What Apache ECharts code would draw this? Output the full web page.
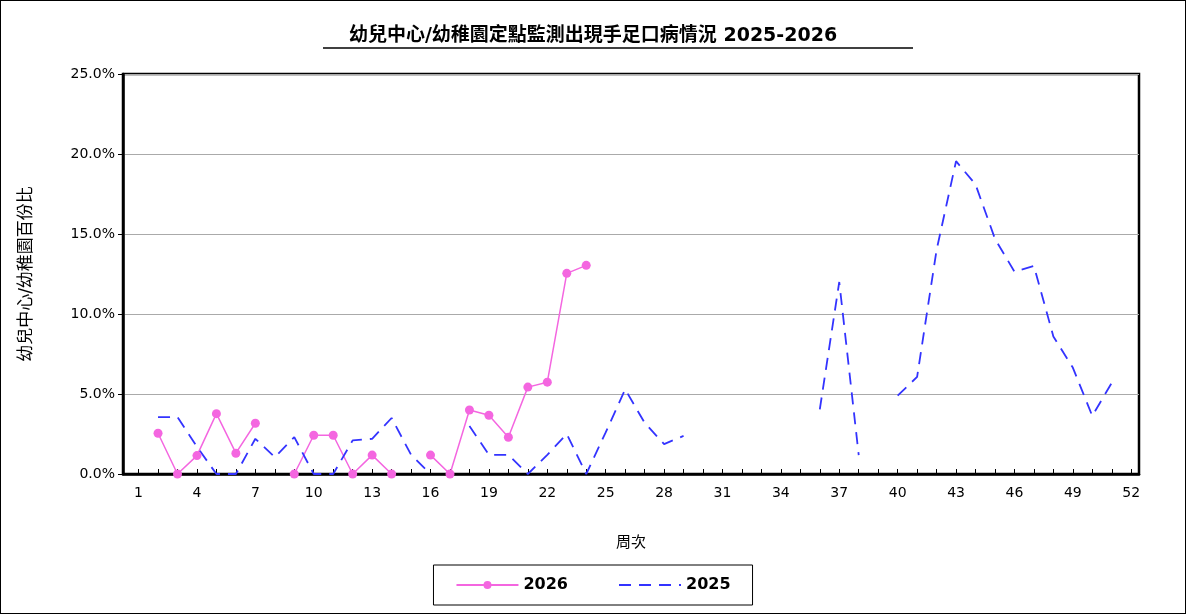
<!DOCTYPE html>
<html><head><meta charset="utf-8">
<script src="https://cdn.jsdelivr.net/npm/echarts@6/dist/echarts.min.js"></script>
<style>html,body{margin:0;padding:0;background:#fff}#c{width:1186px;height:614px;box-sizing:border-box;border:1px solid #000}</style>
</head><body><div id="c"></div>
<script>
const weeks = Array.from({length:52},(_,i)=>i+1);
const xTickLabels = [1,4,7,10,13,16,19,22,25,28,31,34,37,40,43,46,49,52];
const yTickLabels = ['0.0%','5.0%','10.0%','15.0%','20.0%','25.0%'];
const v2026 = [null,2.55,0,1.15,3.77,1.3,3.17,null,0,2.42,2.42,0,1.18,0,null,1.18,0,4.0,3.67,2.3,5.43,5.74,12.54,13.04];
const v2025 = [null,3.56,3.56,1.7,0,0,2.2,1.05,2.3,0,0,2.1,2.2,3.5,1.2,0,null,3.0,1.2,1.2,0,1.2,2.5,0,2.6,5.29,3.2,1.87,2.38,
  null,null,null,null,null,null,4.04,12.0,1.18,null,4.9,6.07,14.0,19.55,18.1,14.7,12.65,13.0,8.6,6.65,3.63,5.7,null];
const pairs = a => a.map((v,i)=>[weeks[i], v]);
const font = '"DejaVu Sans","Noto Sans CJK TC",sans-serif';
const chart = echarts.init(document.getElementById('c'));
chart.setOption({
  animation:false,
  title:{text:'幼兒中心/幼稚園定點監測出現手足口病情況 2025-2026',left:'center',top:21,
    textStyle:{fontFamily:font,fontSize:19,fontWeight:'bold',color:'#000'}},
  graphic:[{type:'line',shape:{x1:322,y1:47,x2:912,y2:47},style:{stroke:'#000',lineWidth:1.5}}],
  grid:{left:122,right:46,top:73,bottom:139,show:true,borderColor:'#000',borderWidth:2.5},
  legend:{bottom:8,left:'center',itemWidth:62,itemHeight:10,itemGap:50,padding:[12,22],borderColor:'#000',borderWidth:1,
    textStyle:{fontFamily:font,fontSize:16,fontWeight:'bold',color:'#000'},
    data:['2026','2025']},
  xAxis:{type:'value',min:0.2,max:52.4,name:'周次',nameLocation:'middle',nameGap:62,
    nameTextStyle:{fontFamily:font,fontSize:15,color:'#000'},
    axisLine:{lineStyle:{color:'#000',width:2.5}},
    axisTick:{show:true,inside:true,length:5,customValues:weeks,lineStyle:{color:'#000'}},
    axisLabel:{customValues:xTickLabels,fontFamily:font,fontSize:14,color:'#000',margin:12},
    splitLine:{show:false}},
  yAxis:{type:'value',min:0,max:25,interval:5,name:'幼兒中心/幼稚園百份比',nameLocation:'middle',nameGap:88,
    nameTextStyle:{fontFamily:font,fontSize:17,color:'#000'},
    axisLine:{show:true,lineStyle:{color:'#000',width:2.5}},
    axisLabel:{fontFamily:font,fontSize:14,color:'#000',formatter:v=>yTickLabels[v/5]},
    splitLine:{lineStyle:{color:'#aaa',width:1}}},
  series:[
    {name:'2026',type:'line',data:pairs(v2026),symbol:'circle',symbolSize:9,
      itemStyle:{color:'#f466e0'},lineStyle:{color:'#f466e0',width:1.5}},
    {name:'2025',type:'line',data:pairs(v2025),symbol:'circle',symbolSize:0,showSymbol:false,
      itemStyle:{color:'#3333ff',opacity:0},lineStyle:{color:'#3333ff',width:1.8,type:[12,8],opacity:1}}
  ]
});
</script></body></html>
